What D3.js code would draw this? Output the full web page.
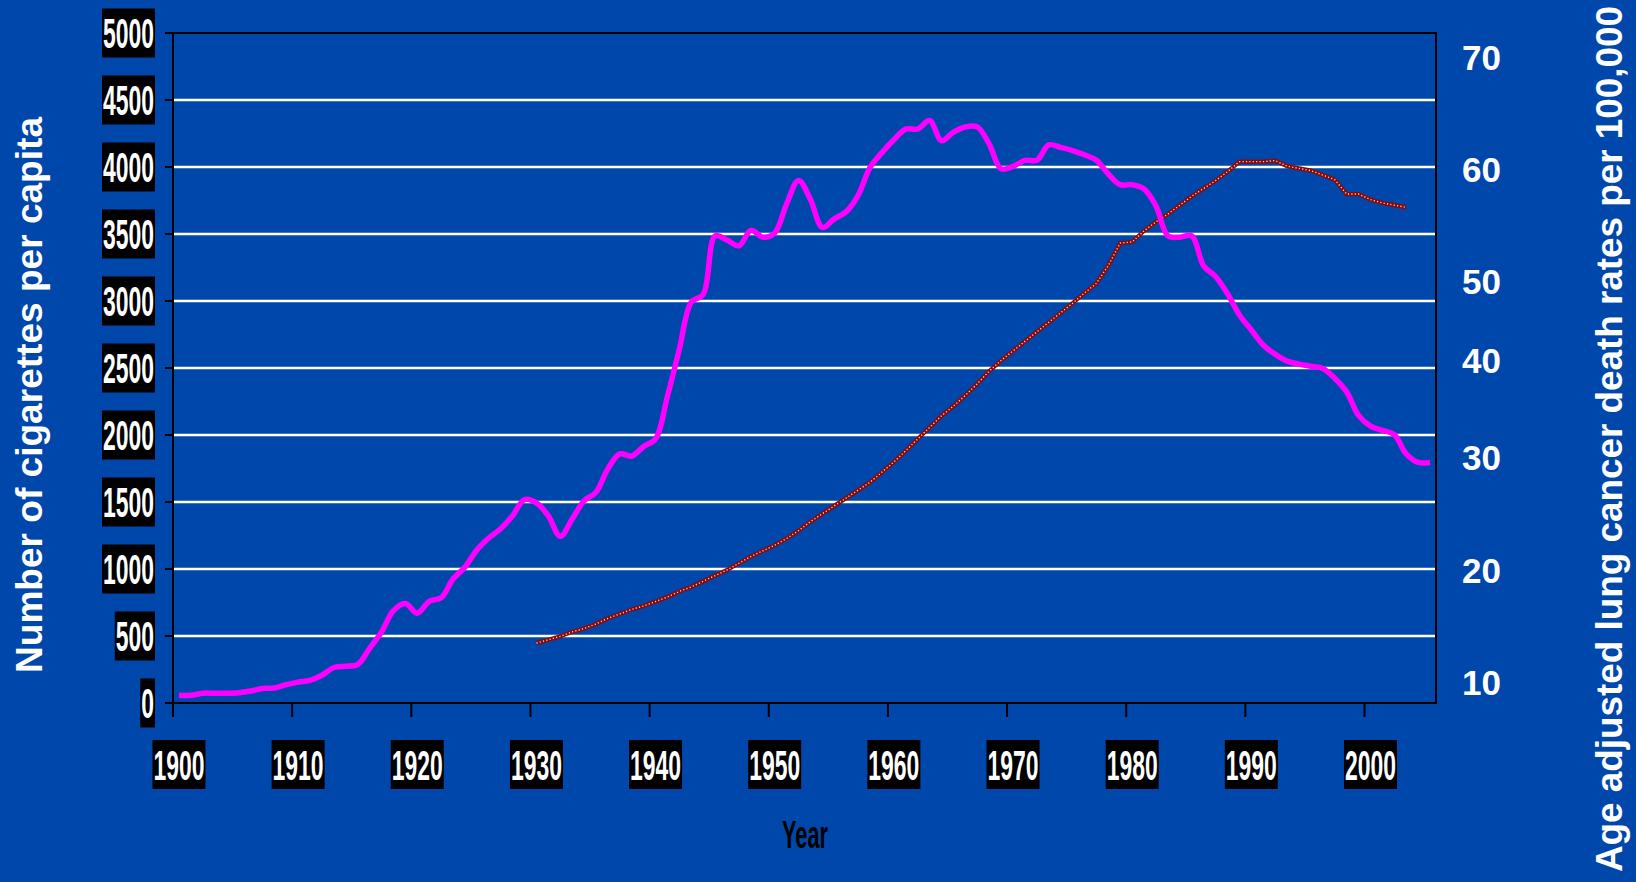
<!DOCTYPE html>
<html>
<head>
<meta charset="utf-8">
<script src="https://cdn.jsdelivr.net/npm/d3@7"></script>
<style>
  html, body { margin: 0; padding: 0; background: #0047ab; }
  svg { display: block; }
</style>
</head>
<body>
<div class="container"></div>
<script>
// years on the category axis
const years = d3.range(1900, 2006);
const decadeTicks = d3.range(1900, 2001, 10);

// cigarettes per capita, 1900-2005
const cigarettes = [
  57, 57, 73, 73, 73, 77, 89, 108, 112, 137,
  156, 169, 207, 265, 274, 287, 408, 530, 689, 743,
  670, 759, 785, 925, 1014, 1142, 1231, 1301, 1397, 1518,
  1493, 1397, 1244, 1372, 1509, 1573, 1748, 1859, 1843, 1914,
  1971, 2290, 2641, 2992, 3049, 3486, 3454, 3412, 3527, 3476,
  3508, 3725, 3900, 3757, 3549, 3613, 3667, 3789, 3996, 4107,
  4203, 4283, 4283, 4347, 4197, 4260, 4299, 4299, 4171, 3986,
  4005, 4050, 4050, 4165, 4146, 4123, 4091, 4050, 3948, 3868,
  3868, 3836, 3709, 3486, 3476, 3486, 3262, 3183, 3055, 2896,
  2784, 2672, 2602, 2551, 2529, 2513, 2497, 2424, 2322, 2146,
  2066, 2035, 2003, 1859, 1795, 1795
];

// lung cancer death rates, 1930-2003
const cancerYears = d3.range(1930, 2004);
const cancerRates = [
  13.5, 13.8, 14.1, 14.5, 14.8, 15.2, 15.7, 16.1, 16.5, 16.8,
  17.2, 17.6, 18.1, 18.5, 19.0, 19.5, 20.0, 20.6, 21.2, 21.7,
  22.2, 22.8, 23.5, 24.3, 25.0, 25.7, 26.4, 27.1, 27.8, 28.7,
  29.6, 30.7, 31.9, 33.1, 34.3, 35.3, 36.4, 37.6, 38.9, 40.0,
  41.2, 42.4, 43.6, 44.8, 46.0, 47.2, 48.5, 49.7, 51.4, 53.4,
  53.5, 54.5, 55.3, 56.0, 56.8, 57.6, 58.3, 59.0, 59.8, 60.7,
  60.7, 60.7, 60.8, 60.3, 60.1, 59.9, 59.5, 59.1, 57.8, 57.8,
  57.3, 57.0, 56.8, 56.6
];

const leftTicks = d3.range(0, 5001, 500);
const rightTicks = [10, 20, 30, 40, 50, 60, 70];

const chart = {
  width: 1636,
  height: 882,
  left: 173,
  top: 33,
  right: 1436,
  bottom: 703,
  bg: "#0047ab"
};

const narrow = "'Liberation Sans Narrow', 'Liberation Sans', Arial, sans-serif";
const sans = "'Liberation Sans', Arial, sans-serif";

function drawChart() {
  const { width, height, left, top, right, bottom } = chart;
  const svg = d3
    .select(".container")
    .append("svg")
    .attr("width", width)
    .attr("height", height);

  svg.append("rect").attr("width", width).attr("height", height).attr("fill", chart.bg);

  const xScale = d3.scaleBand().domain(years).range([left, right]).padding(0);
  const xMid = y => xScale(y) + xScale.bandwidth() / 2;
  const yScale = d3.scaleLinear().domain([0, 5000]).range([bottom, top]);
  // the right-hand labels in the original sit at uneven heights
  const rScale = d3
    .scaleLinear()
    .domain(rightTicks)
    .range([682.5, 570, 457.5, 360.5, 281, 169.5, 57.5]);

  // gridlines
  svg
    .append("g")
    .selectAll("line")
    .data(leftTicks.filter(d => d > 0 && d < 5000))
    .join("line")
    .attr("x1", left)
    .attr("x2", right)
    .attr("y1", d => yScale(d))
    .attr("y2", d => yScale(d))
    .attr("stroke", "#fff")
    .attr("stroke-width", 2.4);

  // plot border
  svg
    .append("rect")
    .attr("x", left)
    .attr("y", top)
    .attr("width", right - left)
    .attr("height", bottom - top)
    .attr("fill", "none")
    .attr("stroke", "#000")
    .attr("stroke-width", 2);

  // left axis ticks and boxed labels
  const yAxis = svg.append("g").attr("id", "y-axis");
  yAxis
    .selectAll("line")
    .data(leftTicks)
    .join("line")
    .attr("x1", left - 8)
    .attr("x2", left)
    .attr("y1", d => yScale(d))
    .attr("y2", d => yScale(d))
    .attr("stroke", "#000")
    .attr("stroke-width", 2);

  const digitW = 12.75;
  const yLab = yAxis.selectAll("g.lab").data(leftTicks).join("g").attr("class", "lab");
  yLab
    .append("rect")
    .attr("x", d => 155 - (String(d).length * digitW + 2))
    .attr("y", d => yScale(d) - 24.5)
    .attr("width", d => String(d).length * digitW + 2)
    .attr("height", 49)
    .attr("fill", "#000");
  yLab
    .append("text")
    .attr("x", 154)
    .attr("y", d => yScale(d) + 15)
    .attr("text-anchor", "end")
    .attr("font-family", narrow)
    .attr("font-weight", "bold")
    .attr("font-size", 42)
    .attr("fill", "#fff")
    .attr("textLength", d => String(d).length * digitW)
    .attr("lengthAdjust", "spacingAndGlyphs")
    .text(d => d);

  // bottom axis
  const xAxis = svg.append("g").attr("id", "x-axis");
  xAxis
    .selectAll("line")
    .data(decadeTicks)
    .join("line")
    .attr("x1", d => xScale(d))
    .attr("x2", d => xScale(d))
    .attr("y1", bottom)
    .attr("y2", bottom + 14)
    .attr("stroke", "#000")
    .attr("stroke-width", 2);

  const xLab = xAxis.selectAll("g.lab").data(decadeTicks).join("g").attr("class", "lab");
  xLab
    .append("rect")
    .attr("x", d => xMid(d) - 26.5)
    .attr("y", 740)
    .attr("width", 53)
    .attr("height", 49)
    .attr("fill", "#000");
  xLab
    .append("text")
    .attr("x", d => xMid(d))
    .attr("y", 780)
    .attr("text-anchor", "middle")
    .attr("font-family", narrow)
    .attr("font-weight", "bold")
    .attr("font-size", 42)
    .attr("fill", "#fff")
    .attr("textLength", 4 * digitW)
    .attr("lengthAdjust", "spacingAndGlyphs")
    .text(d => d);

  svg
    .append("text")
    .attr("x", 805)
    .attr("y", 848)
    .attr("text-anchor", "middle")
    .attr("font-family", narrow)
    .attr("font-weight", "bold")
    .attr("font-size", 39)
    .attr("fill", "#000")
    .attr("textLength", 46)
    .attr("lengthAdjust", "spacingAndGlyphs")
    .text("Year");

  // right labels
  svg
    .append("g")
    .attr("id", "right-axis")
    .selectAll("text")
    .data(rightTicks)
    .join("text")
    .attr("x", 1462)
    .attr("y", d => rScale(d) + 12.5)
    .attr("font-family", sans)
    .attr("font-weight", "bold")
    .attr("font-size", 35)
    .attr("fill", "#fff")
    .text(d => d);

  // axis titles
  svg
    .append("text")
    .attr("transform", "translate(42,395) rotate(-90)")
    .attr("text-anchor", "middle")
    .attr("font-family", sans)
    .attr("font-weight", "bold")
    .attr("font-size", 37)
    .attr("fill", "#fff")
    .attr("textLength", 556)
    .attr("lengthAdjust", "spacingAndGlyphs")
    .text("Number of cigarettes per capita");

  svg
    .append("text")
    .attr("transform", "translate(1622,439) rotate(-90)")
    .attr("text-anchor", "middle")
    .attr("font-family", sans)
    .attr("font-weight", "bold")
    .attr("font-size", 36)
    .attr("fill", "#fff")
    .attr("textLength", 866)
    .attr("lengthAdjust", "spacingAndGlyphs")
    .text("Age adjusted lung cancer death rates per 100,000");

  // lung cancer line (dark red with light flecks)
  const cancerLine = d3
    .line()
    .x((d, i) => xMid(cancerYears[i]))
    .y(d => rScale(d));
  svg
    .append("path")
    .datum(cancerRates)
    .attr("d", cancerLine)
    .attr("fill", "none")
    .attr("stroke", "#8a0808")
    .attr("stroke-width", 4.2);
  svg
    .append("path")
    .datum(cancerRates)
    .attr("d", cancerLine)
    .attr("fill", "none")
    .attr("stroke", "#f4d0c8")
    .attr("stroke-width", 1.4)
    .attr("stroke-dasharray", "1.2,2.2");

  // cigarettes line
  const cigLine = d3
    .line()
    .x((d, i) => xMid(years[i]))
    .y(d => yScale(d))
    .curve(d3.curveCatmullRom.alpha(0.5));
  svg
    .append("path")
    .datum(cigarettes)
    .attr("d", cigLine)
    .attr("fill", "none")
    .attr("stroke", "#ff00ff")
    .attr("stroke-width", 5.5)
    .attr("stroke-linejoin", "round");
}

document.addEventListener("DOMContentLoaded", drawChart);
</script>
</body>
</html>
